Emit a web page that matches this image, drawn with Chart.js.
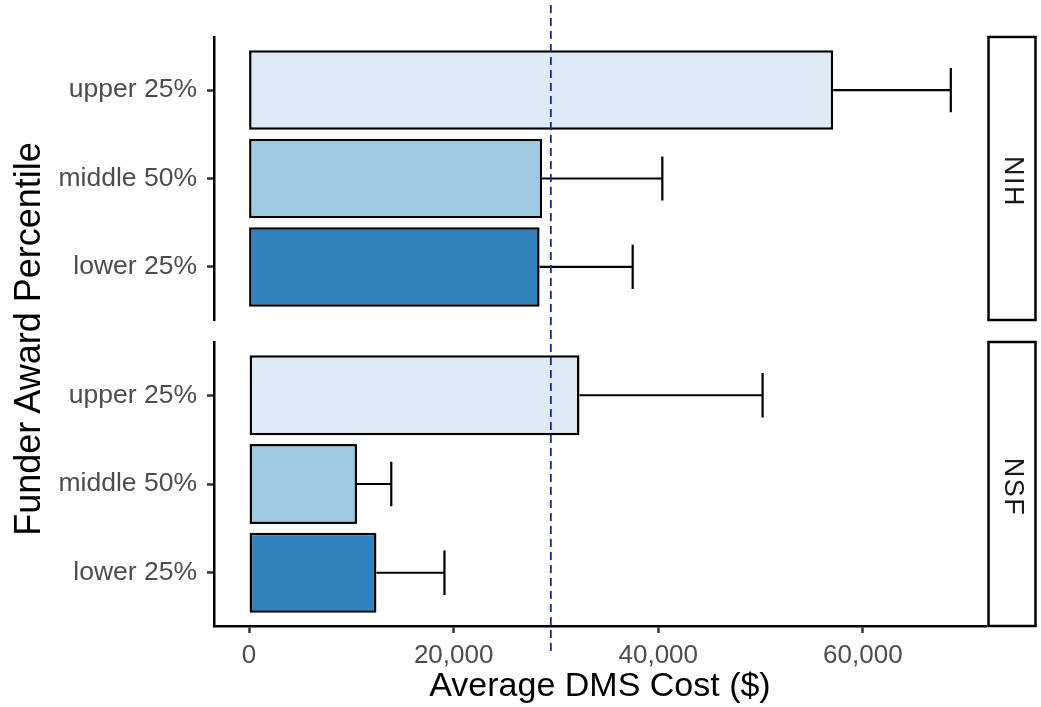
<!DOCTYPE html>
<html>
<head>
<meta charset="utf-8">
<script src="https://cdn.jsdelivr.net/npm/chart.js@4/dist/chart.umd.min.js"></script>
<style>
  body { margin: 0; background: #fff; }
  #wrap { position: relative; width: 1041px; height: 707px; font-family: "Liberation Sans", Arial, sans-serif; }
  .box { position: absolute; left: 0; width: 1041px; }
  #topBox { top: 0; height: 331px; }
  #botBox { top: 331px; height: 376px; }
  #yTitle {
    position: absolute; left: -222px; top: 319px; width: 500px; height: 40px;
    line-height: 40px; text-align: center; font-size: 36px; color: #000;
    transform: rotate(-90deg);
  }
</style>
</head>
<body>
<div id="wrap">
  <div class="box" id="topBox"><canvas id="nihChart"></canvas></div>
  <div class="box" id="botBox"><canvas id="nsfChart"></canvas></div>
  <div id="yTitle">Funder Award Percentile</div>
</div>
<script>
// ===== DATA =====
const categories = ["upper 25%", "middle 50%", "lower 25%"];
const barColors = ["#deebf7", "#9ecae1", "#3182bd"];

const nihMean = [57100, 28650, 28400];
const nihUpper = [68600, 40400, 37500];

const nsfMean = [32300, 10550, 12450];
const nsfUpper = [50200, 13900, 19100];

const overallMean = 29500;
const xTicks = [0, 20000, 40000, 60000];
const xMin = -3430;
const xMax = 72040;

const FONT = "'Liberation Sans', Arial, sans-serif";

// ===== PLUGIN: error bars, mean line, facet strip =====
const panelDecor = {
    id: "panelDecor",
    afterDatasetsDraw(chart, args, opts) {
        const { ctx, chartArea, scales } = chart;
        const x = scales.x, y = scales.y;
        const step = Math.abs(y.getPixelForValue(1) - y.getPixelForValue(0));

        ctx.save();
        // error bars
        ctx.strokeStyle = "#000";
        ctx.lineWidth = 2.2;
        opts.means.forEach((m, i) => {
            const py = y.getPixelForValue(i);
            const x0 = x.getPixelForValue(m);
            const x1 = x.getPixelForValue(opts.upper[i]);
            ctx.beginPath();
            ctx.moveTo(x0, py);
            ctx.lineTo(x1, py);
            ctx.moveTo(x1, py - step / 4);
            ctx.lineTo(x1, py + step / 4);
            ctx.stroke();
        });

        // overall mean line
        const vx = x.getPixelForValue(overallMean);
        ctx.strokeStyle = "#142a98";
        ctx.lineWidth = 1.8;
        ctx.setLineDash([8, 5]);
        ctx.beginPath();
        ctx.moveTo(vx, opts.lineTop);
        ctx.lineTo(vx, opts.lineBottom);
        ctx.stroke();
        ctx.setLineDash([]);

        // facet strip
        const sx = chartArea.right + 2.5;
        const sw = 47;
        ctx.fillStyle = "#fff";
        ctx.strokeStyle = "#000";
        ctx.lineWidth = 2.5;
        ctx.fillRect(sx, chartArea.top, sw, chartArea.bottom - chartArea.top);
        ctx.strokeRect(sx, chartArea.top, sw, chartArea.bottom - chartArea.top);

        ctx.translate(sx + sw / 2, (chartArea.top + chartArea.bottom) / 2);
        ctx.rotate(Math.PI / 2);
        ctx.fillStyle = "#1a1a1a";
        ctx.font = "27px " + FONT;
        ctx.letterSpacing = "1.5px";
        ctx.textAlign = "center";
        ctx.textBaseline = "middle";
        ctx.fillText(opts.label, 3, 0);
        ctx.restore();
    }
};

function makePanel(canvasId, label, means, upper, showX, padding, lineTop, lineBottom) {
    const ctx = document.getElementById(canvasId);
    return new Chart(ctx, {
        type: "bar",
        data: {
            datasets: [{
                data: means.map((v, i) => ({ x: v, y: i })),
                backgroundColor: barColors,
                borderColor: "#000",
                borderWidth: 2.5,
                borderSkipped: false,
                barPercentage: 0.9,
                categoryPercentage: 1
            }]
        },
        options: {
            indexAxis: "y",
            responsive: true,
            maintainAspectRatio: false,
            animation: false,
            layout: { padding: padding },
            plugins: {
                legend: { display: false },
                tooltip: { enabled: false },
                panelDecor: { label, means, upper, lineTop, lineBottom }
            },
            scales: {
                x: {
                    type: "linear",
                    display: showX,
                    min: xMin,
                    max: xMax,
                    afterBuildTicks: s => { s.ticks = xTicks.map(v => ({ value: v })); },
                    afterFit: s => { if (showX) s.height = 81; },
                    grid: {
                        drawOnChartArea: false,
                        drawTicks: true,
                        tickLength: 7,
                        tickWidth: 2.5,
                        tickColor: "#333"
                    },
                    border: { display: true, color: "#000", width: 2.5 },
                    ticks: {
                        color: "#4d4d4d",
                        font: { size: 26, family: FONT },
                        padding: 7,
                        maxRotation: 0,
                        callback: v => v.toLocaleString("en-US")
                    },
                    title: {
                        display: true,
                        text: "Average DMS Cost ($)",
                        color: "#000",
                        font: { size: 34, family: FONT },
                        padding: { top: 0, bottom: 0 }
                    }
                },
                y: {
                    type: "linear",
                    reverse: true,
                    offset: false,
                    min: -0.6,
                    max: 2.6,
                    afterBuildTicks: s => { s.ticks = categories.map((c, i) => ({ value: i })); },
                    afterFit: s => {
                        s.width = 214;
                        s.paddingTop = 0;
                        s.paddingBottom = 0;
                    },
                    grid: {
                        offset: false,
                        drawOnChartArea: false,
                        drawTicks: true,
                        tickLength: 7,
                        tickWidth: 2.5,
                        tickColor: "#333"
                    },
                    border: { display: true, color: "#000", width: 2.5 },
                    ticks: {
                        color: "#4d4d4d",
                        font: { size: 26.5, family: FONT },
                        padding: 10,
                        callback: v => categories[v]
                    }
                }
            }
        },
        plugins: [panelDecor]
    });
}

makePanel("nihChart", "NIH", nihMean, nihUpper, false,
    { top: 37, bottom: 11, left: 0, right: 55 }, 5, 331);
makePanel("nsfChart", "NSF", nsfMean, nsfUpper, true,
    { top: 11, bottom: 0, left: 0, right: 55 }, 0, 321);
</script>
</body>
</html>
